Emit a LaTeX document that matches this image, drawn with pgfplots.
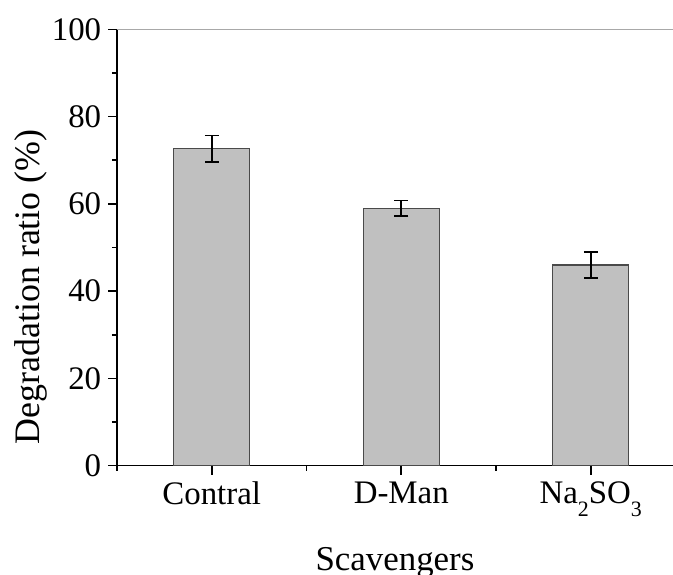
\documentclass[border=0pt]{standalone}
\usepackage{fontspec}
\setmainfont{Liberation Serif}
\usepackage{pgfplots}
\pgfplotsset{compat=1.18}
\definecolor{barfill}{HTML}{C0C0C0}
\definecolor{bardraw}{HTML}{4A4A4A}
\definecolor{topline}{HTML}{A8A8A8}
% low, fairly large subscripts for the chemical formula
\newcommand{\lowsub}[1]{\raisebox{-6.5bp}{\fontsize{11}{12}\selectfont #1}}

\begin{document}
\begin{tikzpicture}
\begin{axis}[
  at={(0,0)}, anchor=south west,
  scale only axis, width=278bp, height=218.2bp,
  xmin=-0.5, xmax=2.434, ymin=0, ymax=100,
  axis x line*=bottom, axis y line*=left,
  axis line style={line width=0.8pt, -},
  xtick={0,1,2},
  xticklabels={Contral, D-Man, Na\lowsub{2}SO\lowsub{3}},
  minor xtick={-0.5,0.5,1.5},
  ytick={0,20,...,100}, minor ytick={10,30,...,90},
  tick align=outside,
  major tick length=4.4bp, minor tick length=2.6bp,
  every tick/.style={black, line width=0.8pt},
  ticklabel style={font=\fontsize{16.5}{18}\selectfont},
  /pgf/number format/assume math mode=true,
  xlabel={Scavengers}, ylabel={Degradation ratio (\%)},
  xlabel style={font=\fontsize{17.5}{20}\selectfont, yshift=-8.5bp},
  ylabel style={font=\fontsize{18}{20}\selectfont,
    at={(axis description cs:-0.155,0.41)}, anchor=center},
]
\addplot[ybar, bar width=0.4, fill=barfill, draw=bardraw, line width=0.6pt,
  error bars/.cd, y dir=both, y explicit,
  error bar style={black, line width=0.8pt},
  error mark options={black, line width=0.8pt, mark size=3.5bp, rotate=90}]
  table[x=x, y=y, y error=e] {
  x y    e
  0 72.6 3.05
  1 59.0 1.8
  2 46.0 2.95
  };
\draw[topline, line width=0.8pt] (rel axis cs:0,1) -- (rel axis cs:1,1);
\end{axis}
\pgfresetboundingbox
\path[use as bounding box] (-58.5bp,-54.65bp) rectangle (278bp,232.85bp);
\end{tikzpicture}
\end{document}
